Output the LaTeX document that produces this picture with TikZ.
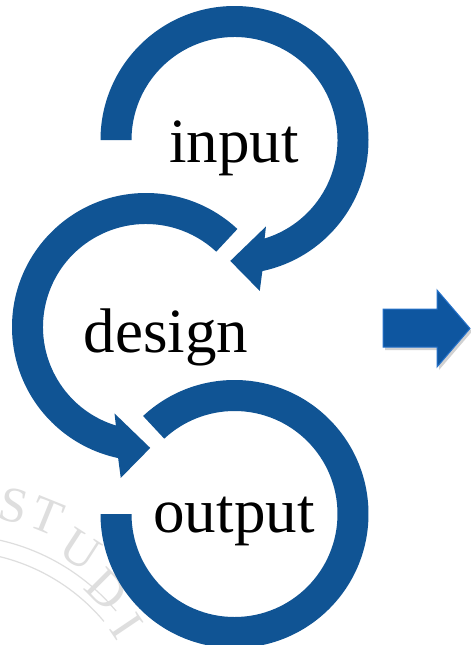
\documentclass[tikz,border=0pt]{standalone}
\usepackage{fontspec}
\setmainfont{Liberation Serif}
\definecolor{ringblue}{RGB}{16,84,148}
\definecolor{arrowblue}{RGB}{14,86,160}
\definecolor{arrowedge}{RGB}{38,114,202}
\definecolor{wmgray}{RGB}{222,222,222}
\begin{document}
\begin{tikzpicture}[x=1pt,y=1pt,
  ring/.style={fill=ringblue},
  ringtext/.style={font=\fontsize{63}{70}\selectfont, inner sep=0pt, anchor=base},
  wmletter/.style={text=wmgray, font=\fontsize{50}{52}\selectfont, inner sep=0pt},
  wmline/.style={draw=wmgray, line width=1.2pt}]
\useasboundingbox (0,0) rectangle (471,-645);
\fill[white] (0,0) rectangle (471,-645);
% watermark
\begin{scope}
\clip (0,0) rectangle (471,-645);
\coordinate (wc) at (-47,-748);
\draw[wmline] ([shift={(wc)}]40:213) arc[start angle=40,end angle=105,radius=213];
\draw[wmline] ([shift={(wc)}]40:197) arc[start angle=40,end angle=105,radius=197];
\node[wmletter, rotate=-13] (w1) at (14,-506) {S};
\node[wmletter, rotate=-22] (w2) at (47,-516) {T};
\node[wmletter, rotate=-33] (w3) at (80,-550) {U};
\node[wmletter, rotate=-45] (w4) at (107,-590) {D};
\node[wmletter, rotate=-56] (w5) at (127,-626) {I};
\end{scope}
% centres
\coordinate (ci) at (234.5,-140);
\coordinate (cd) at (146,-327);
\coordinate (co) at (234.5,-514);
% input ring
\fill[ring] ([shift={(ci)}]180:134) arc[start angle=180,end angle=-78,radius=134]
  -- ([shift={(ci)}]-80.5:153) -- ([shift={(ci)}]-92:121) -- ([shift={(ci)}]-70:92)
  -- ([shift={(ci)}]-73:103) arc[start angle=-73,end angle=180,radius=103] -- cycle;
% design ring
\fill[ring] ([shift={(cd)}]47:134) arc[start angle=47,end angle=258,radius=134]
  -- ([shift={(cd)}]260.5:153) -- ([shift={(cd)}]272:121) -- ([shift={(cd)}]250:92)
  -- ([shift={(cd)}]253:103) arc[start angle=253,end angle=47,radius=103] -- cycle;
% output ring
\fill[ring] ([shift={(co)}]133:134) arc[start angle=133,end angle=-180,radius=134]
  -- ([shift={(co)}]-180:103) arc[start angle=-180,end angle=133,radius=103] -- cycle;
% texts
\node[ringtext] (tin) at (234,-162) {input};
\node[ringtext] (tde) at (166,-352) {design};
\node[ringtext] (tou) at (234,-532) {output};
% block arrow
\fill[black, opacity=0.18] (385,-312) -- (439,-312) -- (439,-293) -- (472,-331.5) -- (439,-370) -- (439,-350) -- (385,-350) -- cycle;
\filldraw[fill=arrowblue, draw=arrowedge, line width=1pt]
  (383,-309) -- (437,-309) -- (437,-290) -- (470,-328.5) -- (437,-367) -- (437,-347) -- (383,-347) -- cycle;
\end{tikzpicture}
\end{document}
